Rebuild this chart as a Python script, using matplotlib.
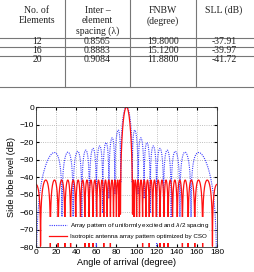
import numpy as np
import matplotlib
matplotlib.use('Agg')
import matplotlib.pyplot as plt
from matplotlib.patches import Rectangle

# table data
header = [['No. of', 'Elements'],
          ['Inter \u2013', 'element', 'spacing (\u03bb)'],
          ['FNBW', '(degree)'],
          ['SLL (dB)']]
n_elements = [12, 16, 20]
spacing = [0.8565, 0.8883, 0.9084]
fnbw = [19.8000, 15.1200, 11.8800]
sll = [-37.91, -39.97, -41.72]

# plotted arrays: 20 elements, uniform lambda/2 vs. optimized (row 3 of table)
n_plot = 20
d_uniform = 0.5
d_opt = spacing[2]
sll_opt = sll[2]
theta = np.linspace(0, 180, 1801)

# uniform array factor
psi = 2 * np.pi * d_uniform * np.cos(np.radians(theta))
with np.errstate(invalid='ignore', divide='ignore'):
    af_u = np.sin(n_plot * psi / 2) / (n_plot * np.sin(psi / 2))
af_u = np.where(np.isnan(af_u), 1.0, af_u)
db_u = 20 * np.log10(np.abs(af_u) + 1e-12)

# optimized pattern (equiripple side lobes at the table SLL)
R = 10 ** (-sll_opt / 20)
x0 = np.cosh(np.arccosh(R) / (n_plot - 1))
psi2 = 2 * np.pi * d_opt * np.cos(np.radians(theta))
x = x0 * np.cos(psi2 / 2)
tn = np.where(np.abs(x) <= 1, np.cos((n_plot - 1) * np.arccos(np.clip(x, -1, 1))),
              np.sign(x) ** (n_plot - 1) * np.cosh((n_plot - 1) * np.arccosh(np.maximum(np.abs(x), 1))))
db_o = 20 * np.log10(np.abs(tn) / R + 1e-12)

fig = plt.figure(figsize=(2.54, 2.72), dpi=100)

# ---- table ----
tab = fig.add_axes([0, 0, 1, 1])
tab.set_xlim(0, 254)
tab.set_ylim(272, 0)
tab.axis('off')
centers = [37, 97.5, 163, 224]
for xe in [65, 130, 196]:
    tab.plot([xe, xe], [0, 87], color='#777777', lw=0.8)
for ye in [37.5, 46.5, 55.5, 87]:
    tab.plot([0, 254], [ye, ye], color='#777777', lw=0.8)
tf = dict(family='Liberation Serif', fontsize=7.0, ha='center', va='center', color='#222222')
for c, lines in zip(centers, header):
    for i, s in enumerate(lines):
        tab.text(c, 10.5 + 10.3 * i, s, **tf)
for r in range(3):
    y = 41.8 + 9 * r
    tab.text(centers[0], y, str(n_elements[r]), **tf)
    tab.text(centers[1], y, '%.4f' % spacing[r], **tf)
    tab.text(centers[2], y, '%.4f' % fnbw[r], **tf)
    tab.text(centers[3], y, '%.2f' % sll[r], **tf)

# ---- plot ----
plt.rcParams['font.family'] = 'Liberation Sans'
ax = fig.add_axes([0.1417, 0.0919, 0.7126, 0.5147])
ax.plot(theta, db_u, color='#3c3cff', ls=(0, (1, 1)), lw=0.8,
        label='Array pattern of uniformly excited and $\\lambda$/2 spacing')
ax.plot(theta, db_o, color='#ff1010', lw=0.9,
        label='Isotropic antenna array pattern optimized by CSO')
ax.set_xlim(0, 180)
ax.set_ylim(-80, 0)
ax.set_xticks(np.arange(0, 181, 20))
ax.set_yticks(np.arange(-80, 1, 10))
ax.grid(True, color='#aaaaaa', ls=':', lw=0.6)
ax.tick_params(direction='in', labelsize=6, length=2, top=True, right=True, pad=1.5)
for sp in ax.spines.values():
    sp.set_linewidth(0.6)
    sp.set_color('#333333')
ax.set_xlabel('Angle of arrival (degree)', fontsize=6.6, labelpad=1.5)
ax.set_ylabel('Side lobe level (dB)', fontsize=6.6, labelpad=2.5)

# white legend box covering the curves
ax.add_patch(Rectangle((0.04, 0.03), 0.915, 0.185, transform=ax.transAxes,
                       facecolor='white', edgecolor='none', zorder=3))
leg = ax.legend(loc='center left', bbox_to_anchor=(0.045, 0.12), fontsize=4.5,
                frameon=False, handlelength=2.9, borderpad=0.2,
                labelspacing=0.55, handletextpad=0.5)
leg.set_zorder(4)

fig.savefig('out.png', dpi=100)
